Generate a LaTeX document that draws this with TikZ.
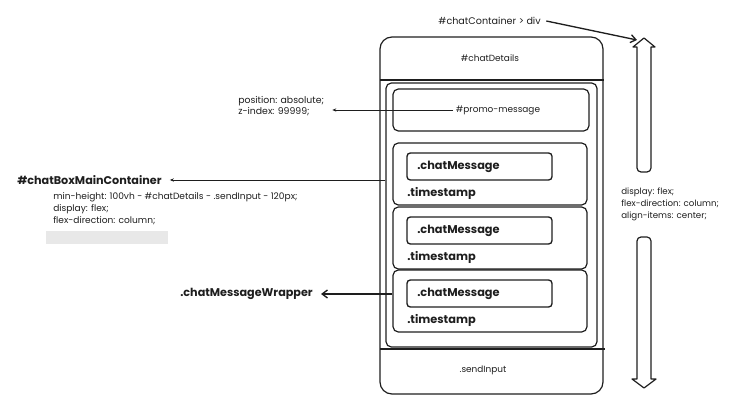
\documentclass[tikz,border=0pt]{standalone}
\usepackage{fontspec}
\setmainfont{Poppins}
\usetikzlibrary{arrows.meta, positioning, fit, calc}
\definecolor{ink}{HTML}{1E1E1E}
\definecolor{spacer}{HTML}{E8E8E8}
\tikzstyle{frame} = [draw=ink, line width=0.9pt, inner sep=0pt, rounded corners=9pt]
\tikzstyle{box} = [draw=ink, line width=0.9pt, inner sep=0pt, rounded corners=4pt]
\tikzstyle{msgbox} = [draw=ink, line width=1pt, inner sep=0pt, rounded corners=2.5pt]
\tikzstyle{caption} = [font=\fontsize{6.7}{8}\selectfont, text=ink, inner sep=0pt]
\tikzstyle{tag} = [font=\fontsize{8.5}{10}\selectfont\bfseries, text=ink, inner sep=0pt]
\tikzstyle{heading} = [font=\fontsize{8.4}{10}\selectfont\bfseries, text=ink, inner sep=0pt]
\tikzstyle{css} = [font=\fontsize{6.8}{9.2}\selectfont, text=ink, align=left, inner sep=0pt]
\tikzstyle{arrow} = [draw=ink, line width=0.6pt, -{Stealth[length=3pt, width=2.5pt]}]
\tikzstyle{bigarrow} = [draw=ink, line width=1pt, -{Straight Barb[length=4pt, width=6pt]}]
\tikzstyle{outline} = [draw=ink, line width=0.9pt, line join=round]

\begin{document}
\begin{tikzpicture}[x=0.75pt, y=-0.75pt]
  \useasboundingbox (0,0) rectangle (736,409);

  % the page
  \node (phone) [frame, fit={(380,37) (603,394)}] {};
  \node (details) [caption] at (490,58) {\#chatDetails};
  \draw[outline] (380,80) -- (604,80);
  \draw[outline] (380,349) -- (605,349);
  \node (send) [caption] at (483,370) {.sendInput};

  % main container
  \node (main)     [box, fit={(386,83) (597,347)}] {};
  \node (promo)    [box, fit={(393,89) (589,131)}] {};
  \node (promotxt) [caption] at (498,110) {\#promo-message};

  \foreach \i/\t in {1/143, 2/207, 3/270} {
    \node (wrap\i)   [box, fit={(393,\t) (587,{\t+62})}] {};
    \node (msg\i)    [msgbox, fit={(407,{\t+10}) (552,{\t+37})}] {};
    \node (msgtxt\i) [tag, anchor=west] at (417,{\t+24}) {.chatMessage};
    \node (stamp\i)  [tag, anchor=west] at (407,{\t+50}) {.timestamp};
  }

  % flex direction arrows
  \draw[outline] (644,38) -- (655,47) -- (651,47) [rounded corners=3pt] -- (651,172)
    -- (637,172) [sharp corners] -- (637,47) -- (633,47) -- cycle;
  \draw[outline] (644,388) -- (656,379) -- (651,379) [rounded corners=3pt] -- (651,237)
    -- (637,237) [sharp corners] -- (637,379) -- (632,379) -- cycle;
  \coordinate (uptip) at (637,40);

  \node (cc) [caption, anchor=east, font=\fontsize{7.2}{8}\selectfont] at (541,21) {\#chatContainer > div};
  \draw[bigarrow] ([xshift=4pt]cc.east) -- (uptip);
  \node (flexcss) [css, anchor=north west, font=\fontsize{6.5}{9}\selectfont] at (621,188)
    {display: flex;\\flex-direction: column;\\align-items: center;};

  % left notes
  \node (poscss) [css, anchor=north west, font=\fontsize{7}{8.4}\selectfont] at (238,96)
    {position: absolute;\\z-index: 99999;};
  \draw[arrow] ([xshift=-2pt]promotxt.west) -- ([xshift=6pt]promotxt.west -| poscss.east);

  \node (mainlbl) [heading, anchor=west] at (17,180) {\#chatBoxMainContainer};
  \draw[arrow] (main.west |- mainlbl) -- ([xshift=6pt]mainlbl.east);
  \node (maincss) [css, anchor=north west] at (53,192)
    {min-height: 100vh - \#chatDetails - .sendInput - 120px;\\display: flex;\\flex-direction: column;};
  \node (gap) [fill=spacer, inner sep=0pt, fit={(46,231) (168,244)}] {};

  \node (wraplbl) [heading, anchor=west] at (180,294) {.chatMessageWrapper};
  \draw[bigarrow] (wrap3.west |- wraplbl) -- ([xshift=6pt]wraplbl.east);
\end{tikzpicture}
\end{document}
